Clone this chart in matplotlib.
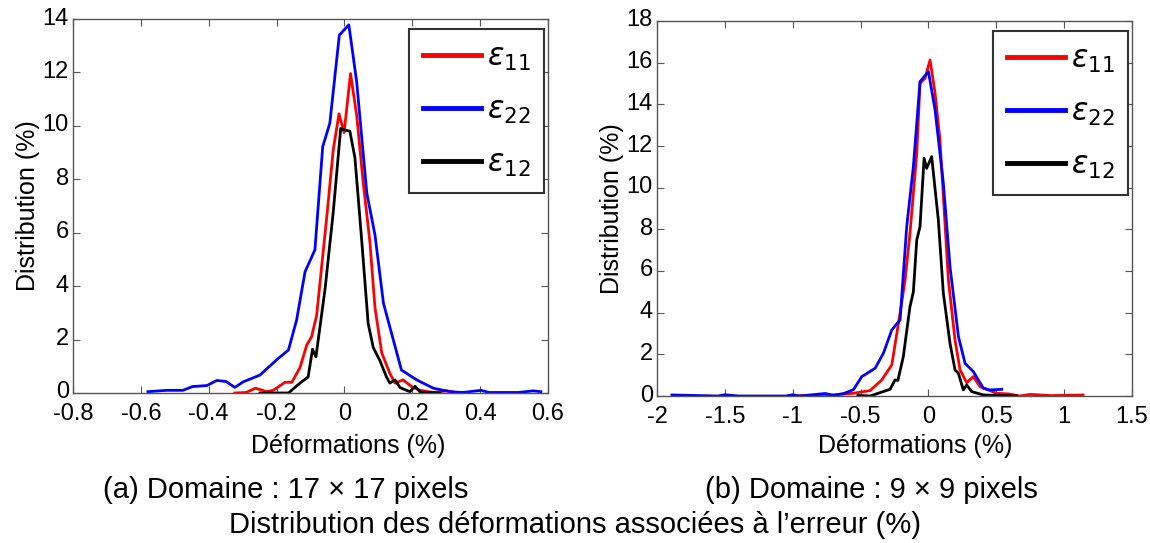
import matplotlib
matplotlib.use("Agg")
import matplotlib.pyplot as plt
import matplotlib.transforms as mtrans

# (a) domaine 17 x 17
a_x11 = [-0.323, -0.290, -0.262, -0.229, -0.210, -0.175, -0.155, -0.131, -0.111, -0.097, -0.082,
         -0.052, -0.033, -0.016, -0.001, 0.018, 0.036, 0.055, 0.075, 0.090, 0.110, 0.134, 0.149,
         0.173, 0.198, 0.223, 0.261, 0.301, 0.337]
a_y11 = [0.0, 0.02, 0.18, 0.05, 0.10, 0.40, 0.40, 0.95, 1.80, 2.10, 2.90,
         6.60, 9.10, 10.45, 9.75, 11.96, 10.40, 7.92, 5.66, 3.20, 1.50, 0.73, 0.37,
         0.49, 0.24, 0.10, 0.02, 0.08, 0.0]
a_x22 = [-0.579, -0.524, -0.476, -0.448, -0.405, -0.376, -0.349, -0.323, -0.298, -0.249, -0.200,
         -0.165, -0.141, -0.116, -0.087, -0.064, -0.043, -0.015, 0.013, 0.036, 0.066, 0.090,
         0.115, 0.168, 0.213, 0.262, 0.311, 0.349, 0.403, 0.426, 0.513, 0.556, 0.579]
a_y22 = [0.05, 0.10, 0.10, 0.24, 0.28, 0.47, 0.43, 0.21, 0.42, 0.67, 1.24,
         1.61, 2.73, 4.54, 5.36, 9.22, 10.10, 13.40, 13.78, 11.66, 7.48, 5.92,
         3.36, 0.86, 0.49, 0.18, 0.05, 0.02, 0.10, 0.02, 0.02, 0.08, 0.05]
a_x12 = [-0.249, -0.165, -0.131, -0.107, -0.094, -0.084, -0.057, -0.033, -0.011, -0.003, 0.016,
         0.031, 0.051, 0.070, 0.085, 0.105, 0.124, 0.134, 0.149, 0.164, 0.193, 0.208, 0.223, 0.282]
a_y12 = [0.0, 0.0, 0.37, 0.60, 1.64, 1.35, 3.90, 6.77, 9.90, 9.86, 9.80,
         8.80, 5.70, 2.60, 1.70, 1.20, 0.60, 0.37, 0.49, 0.20, 0.05, 0.25, 0.04, 0.0]

# (b) domaine 9 x 9
b_x11 = [-0.946, -0.80, -0.553, -0.43, -0.344, -0.27, -0.209, -0.172, -0.136, -0.086, -0.062,
         -0.025, 0.012, 0.049, 0.085, 0.147, 0.196, 0.233, 0.282, 0.331, 0.38, 0.503, 0.59,
         0.675, 0.75, 0.90, 1.14]
b_y11 = [0.02, 0.0, 0.13, 0.26, 0.77, 1.49, 3.97, 5.57, 7.81, 11.65, 15.01,
         15.25, 16.13, 14.53, 12.30, 5.57, 2.69, 1.25, 0.64, 0.93, 0.45, 0.13, 0.10,
         0.0, 0.08, 0.02, 0.05]
b_x22 = [-1.89, -1.55, -1.50, -1.40, -1.05, -1.00, -0.95, -0.76, -0.70, -0.624, -0.553, -0.491,
         -0.393, -0.332, -0.27, -0.209, -0.16, -0.111, -0.062, 0.0, 0.049, 0.11, 0.159, 0.221,
         0.27, 0.331, 0.405, 0.454, 0.54]
b_y22 = [0.05, 0.0, 0.06, 0.0, 0.0, 0.06, 0.0, 0.12, 0.03, 0.12, 0.30, 0.93,
         1.33, 2.05, 3.17, 3.65, 8.13, 11.01, 15.09, 15.57, 13.73, 10.21, 6.21, 2.85,
         1.57, 1.17, 0.37, 0.29, 0.32]
b_x12 = [-0.52, -0.43, -0.357, -0.283, -0.246, -0.225, -0.185, -0.136, -0.111, -0.086, -0.062,
         -0.032, -0.013, 0.024, 0.073, 0.11, 0.159, 0.196, 0.221, 0.257, 0.282, 0.319, 0.405, 0.65]
b_y12 = [0.03, 0.0, 0.16, 0.32, 0.77, 0.75, 1.89, 4.29, 5.0, 7.49, 8.13,
         11.41, 10.93, 11.49, 8.45, 4.93, 2.53, 1.25, 1.09, 0.29, 0.53, 0.21, 0.05, 0.0]

labels = [r"$\varepsilon_{11}$", r"$\varepsilon_{22}$", r"$\varepsilon_{12}$"]
colors = ["#ff0000", "#0000ff", "#000000"]

plt.rcParams["font.family"] = ["Liberation Sans", "DejaVu Sans"]
plt.rcParams["mathtext.fontset"] = "dejavusans"

fig = plt.figure(figsize=(11.5, 5.43), dpi=100)
W, H = 1150.0, 543.0

ax1 = fig.add_axes([73 / W, 1 - 393 / H, 475 / W, 374 / H])
ax2 = fig.add_axes([657 / W, 1 - 396 / H, 475 / W, 375 / H])

panels = [
    (ax1, [(a_x11, a_y11), (a_x22, a_y22), (a_x12, a_y12)], (-0.8, 0.6), (0, 14),
     [-0.8, -0.6, -0.4, -0.2, 0, 0.2, 0.4, 0.6], ["-0.8", "-0.6", "-0.4", "-0.2", "0", "0.2", "0.4", "0.6"],
     range(0, 15, 2), 348),
    (ax2, [(b_x11, b_y11), (b_x22, b_y22), (b_x12, b_y12)], (-2, 1.5), (0, 18),
     [-2, -1.5, -1, -0.5, 0, 0.5, 1, 1.5], ["-2", "-1.5", "-1", "-0.5", "0", "0.5", "1", "1.5"],
     range(0, 19, 2), 915),
]

# y tick labels sit a little above their ticks, as in the original
up = mtrans.ScaledTranslation(0, 3 / 100.0, fig.dpi_scale_trans)

for ax, series, xl, yl, xt, xtl, yt, xlab_x in panels:
    for (xs, ys), c, lab in zip(series, colors, labels):
        ax.plot(xs, ys, color=c, lw=2, label=lab)
    ax.set_xlim(*xl)
    ax.set_ylim(*yl)
    ax.set_xticks(xt)
    ax.set_xticklabels(xtl)
    ax.set_yticks(list(yt))
    ax.tick_params(direction="in", top=True, right=True, length=5, width=0.8,
                   color="#555555", labelsize=17)
    ax.tick_params(axis="x", pad=7)
    ax.tick_params(axis="y", pad=3)
    for lbl in ax.get_yticklabels():
        lbl.set_transform(lbl.get_transform() + up)
    for s in ax.spines.values():
        s.set_color("#555555")
        s.set_linewidth(1)
    ax.set_ylabel("Distribution (%)", fontsize=18, labelpad=2)
    fig.text(xlab_x / W, 1 - 446 / H, "Déformations (%)", fontsize=18, ha="center", va="center")
    leg = ax.legend(loc="upper right", bbox_to_anchor=(0.992, 0.973), borderaxespad=0,
                    fontsize=22, handlelength=1.9, labelspacing=0.75, borderpad=0.45,
                    handletextpad=0.2, fancybox=False, framealpha=1)
    leg.get_frame().set_edgecolor("#333333")
    leg.get_frame().set_linewidth(1.5)
    for ln in leg.get_lines():
        ln.set_linewidth(3.5)

fig.text(286 / W, 1 - 490 / H, "(a) Domaine : 17 × 17 pixels", fontsize=21, ha="center", va="center")
fig.text(871 / W, 1 - 490 / H, "(b) Domaine : 9 × 9 pixels", fontsize=21, ha="center", va="center")
fig.text(575 / W, 1 - 525 / H, "Distribution des déformations associées à l’erreur (%)",
         fontsize=21, ha="center", va="center")

fig.savefig("out.png", dpi=100)
